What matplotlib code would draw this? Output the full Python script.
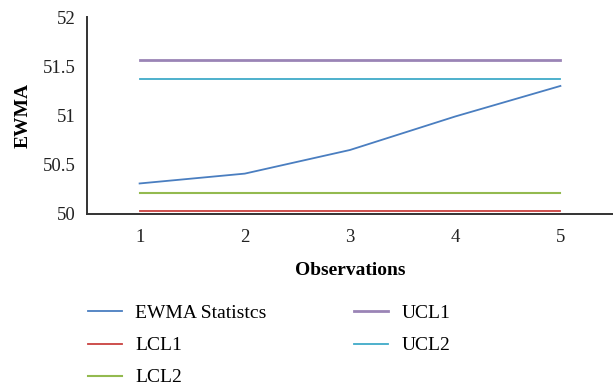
import matplotlib
matplotlib.use("Agg")
import matplotlib.pyplot as plt

observations = [1, 2, 3, 4, 5]
ewma_stat = [50.31, 50.41, 50.65, 50.99, 51.30]
lcl1 = [50.03, 50.03, 50.03, 50.03, 50.03]
lcl2 = [50.21, 50.21, 50.21, 50.21, 50.21]
ucl1 = [51.56, 51.56, 51.56, 51.56, 51.56]
ucl2 = [51.37, 51.37, 51.37, 51.37, 51.37]
y_ticks = [50, 50.5, 51, 51.5, 52]
y_tick_labels = ["50", "50.5", "51", "51.5", "52"]

plt.rcParams["font.family"] = ["Liberation Serif", "DejaVu Serif"]

fig = plt.figure(figsize=(6.13, 3.89), dpi=100)
ax = fig.add_axes([87 / 613, 1 - 214 / 389, 1 - 87 / 613, (214 - 17) / 389])

h_ewma, = ax.plot(observations, ewma_stat, color="#4A7EC0", lw=1.3, label="EWMA Statistcs")
h_lcl1, = ax.plot(observations, lcl1, color="#C9413F", lw=1.3, label="LCL1")
h_lcl2, = ax.plot(observations, lcl2, color="#93BA4F", lw=1.5, label="LCL2")
h_ucl1, = ax.plot(observations, ucl1, color="#9A84B6", lw=2.0, label="UCL1")
h_ucl2, = ax.plot(observations, ucl2, color="#3FAAC8", lw=1.3, label="UCL2")

ax.set_xlim(0.5, 5.5)
ax.set_ylim(50, 52)
ax.set_xticks(observations)
ax.set_xticklabels([str(o) for o in observations])
ax.set_yticks(y_ticks)
ax.set_yticklabels(y_tick_labels)
ax.tick_params(axis="both", length=0, labelsize=13.5, colors="#222222")
ax.tick_params(axis="x", pad=11)
ax.tick_params(axis="y", pad=8)

for side in ("top", "right"):
    ax.spines[side].set_visible(False)
for side in ("left", "bottom"):
    ax.spines[side].set_color("#333333")
    ax.spines[side].set_linewidth(1.4)

ax.set_xlabel("Observations", fontsize=14, fontweight="bold", labelpad=11)
ax.set_ylabel("EWMA", fontsize=14, fontweight="bold", labelpad=8)

fig.legend(handles=[h_ewma, h_lcl1, h_lcl2, h_ucl1, h_ucl2],
           loc="upper left", bbox_to_anchor=(70 / 613, 1 - 287 / 389),
           ncol=2, frameon=False, fontsize=14, handlelength=1.75,
           handletextpad=0.7, columnspacing=4.5, labelspacing=0.75)

fig.savefig("out.png", dpi=100)
